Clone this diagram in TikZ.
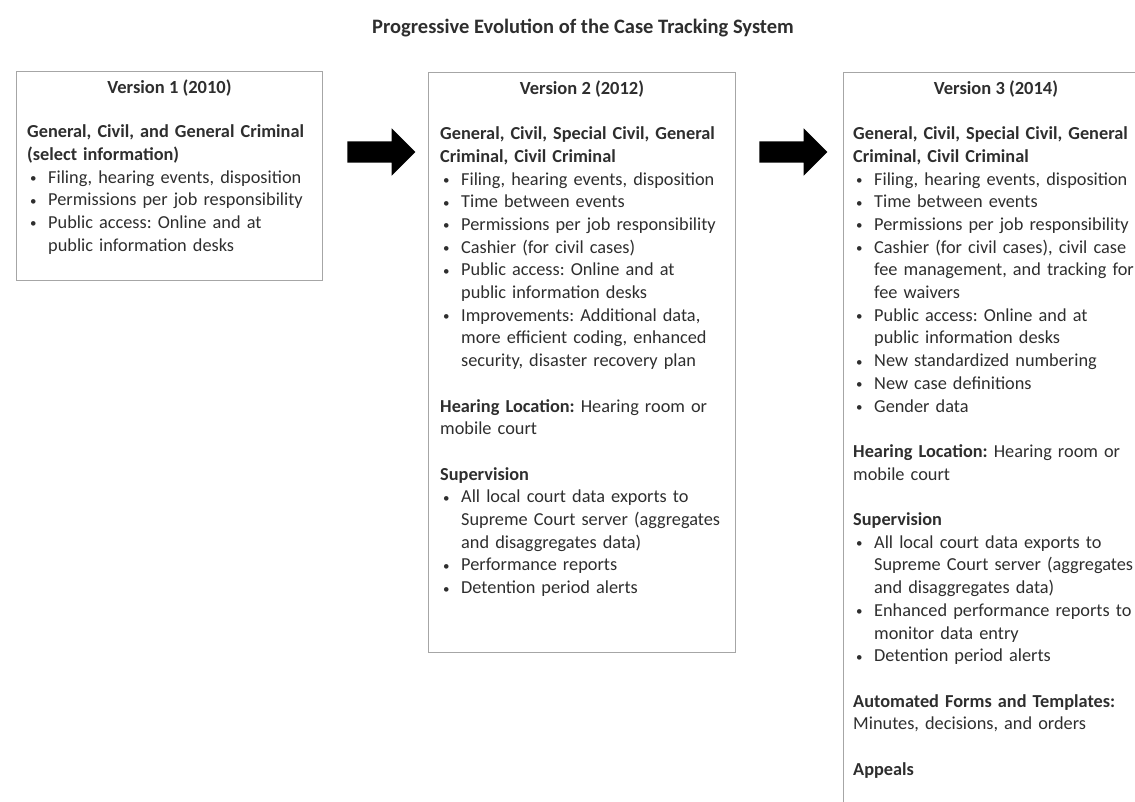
\documentclass[tikz,border=0pt]{standalone}
\usepackage{fontspec}
\setmainfont{Carlito}
\usetikzlibrary{shapes.arrows, positioning}
\definecolor{boxgray}{HTML}{A6A6A6}
\definecolor{inkgray}{HTML}{2E2E2E}
\newcommand{\bitem}[1]{\par\noindent\hangindent=21pt\hangafter=1\makebox[21pt][l]{\hspace{3pt}\raisebox{0.6pt}{\fontsize{13}{13}\selectfont\textbullet}}#1}
\newcommand{\gapline}{\par\vspace{22.7pt}}
\frenchspacing

\begin{document}
\begin{tikzpicture}[x=1pt, y=-1pt,
      verbox/.style={draw=boxgray, line width=1pt, anchor=north west, inner sep=0pt},
      verhead/.style={anchor=base, inner sep=0pt, font=\fontsize{18.5}{22.7}\selectfont\bfseries, text=inkgray},
      vertext/.style={anchor=north west, inner sep=0pt, text width=340pt, align=left,
        font=\fontsize{18.3}{22.7}\selectfont\frenchspacing, text=inkgray},
      blockarr/.style={single arrow, fill=black, inner xsep=0pt, inner ysep=10.5pt,
        minimum height=68pt, single arrow head extend=13pt, single arrow tip angle=90},
    ]
    \clip (0,0) rectangle (1135,802);
    \useasboundingbox (0,0) rectangle (1135,802);
    % --- title ----------------------------------------------------------
    \node[verhead, font=\fontsize{20.5}{24}\selectfont\bfseries] (title) at (583,34)
      {Progressive Evolution of the Case Tracking System};
    % --- the three version boxes ------------------------------------------
    \node[verbox, minimum width=306pt, minimum height=209pt] (v1) at (16,71) {};
    \node[verbox, minimum width=307pt, minimum height=580pt] (v2) at (428,72) {};
    \node[verbox, minimum width=305pt, minimum height=760pt] (v3) at (843,72) {};
    % --- box headers ------------------------------------------------------
    \node[verhead] (v1h) at ([shift={(0,23)}]v1.north) {Version 1 (2010)};
    \node[verhead] (v2h) at ([shift={(0,23)}]v2.north) {Version 2 (2012)};
    \node[verhead] (v3h) at ([shift={(0,23)}]v3.north) {Version 3 (2014)};
    % --- box contents -----------------------------------------------------
    \node[vertext] (v1t) at ([shift={(11,53.6)}]v1.north west) {%
      \noindent\textbf{General, Civil, and General Criminal\newline (select information)}
      \bitem{Filing, hearing events, disposition}
      \bitem{Permissions per job responsibility}
      \bitem{Public access: Online and at\newline public information desks}\par};
    \node[vertext] (v2t) at ([shift={(12,54.6)}]v2.north west) {%
      \noindent\textbf{General, Civil, Special Civil, General\newline Criminal, Civil Criminal}
      \bitem{Filing, hearing events, disposition}
      \bitem{Time between events}
      \bitem{Permissions per job responsibility}
      \bitem{Cashier (for civil cases)}
      \bitem{Public access: Online and at\newline public information desks}
      \bitem{Improvements: Additional data,\newline more efficient coding, enhanced\newline security, disaster recovery plan}
      \gapline
      \noindent\textbf{Hearing Location:} Hearing room or\newline mobile court
      \gapline
      \noindent\textbf{Supervision}
      \bitem{All local court data exports to\newline Supreme Court server (aggregates\newline and disaggregates data)}
      \bitem{Performance reports}
      \bitem{Detention period alerts}\par};
    \node[vertext] (v3t) at ([shift={(10,54.6)}]v3.north west) {%
      \noindent\textbf{General, Civil, Special Civil, General\newline Criminal, Civil Criminal}
      \bitem{Filing, hearing events, disposition}
      \bitem{Time between events}
      \bitem{Permissions per job responsibility}
      \bitem{Cashier (for civil cases), civil case\newline fee management, and tracking for\newline fee waivers}
      \bitem{Public access: Online and at\newline public information desks}
      \bitem{New standardized numbering}
      \bitem{New case definitions}
      \bitem{Gender data}
      \gapline
      \noindent\textbf{Hearing Location:} Hearing room or\newline mobile court
      \gapline
      \noindent\textbf{Supervision}
      \bitem{All local court data exports to\newline Supreme Court server (aggregates\newline and disaggregates data)}
      \bitem{Enhanced performance reports to\newline monitor data entry}
      \bitem{Detention period alerts}
      \gapline
      \noindent\textbf{Automated Forms and Templates:}\newline Minutes, decisions, and orders
      \gapline
      \noindent\textbf{Appeals}\par};
    % --- block arrows between the boxes -----------------------------------
    \node[blockarr] (a12) at (376,152) {};
    \node[blockarr] (a23) at (788,152) {};
  \end{tikzpicture}
\end{document}
